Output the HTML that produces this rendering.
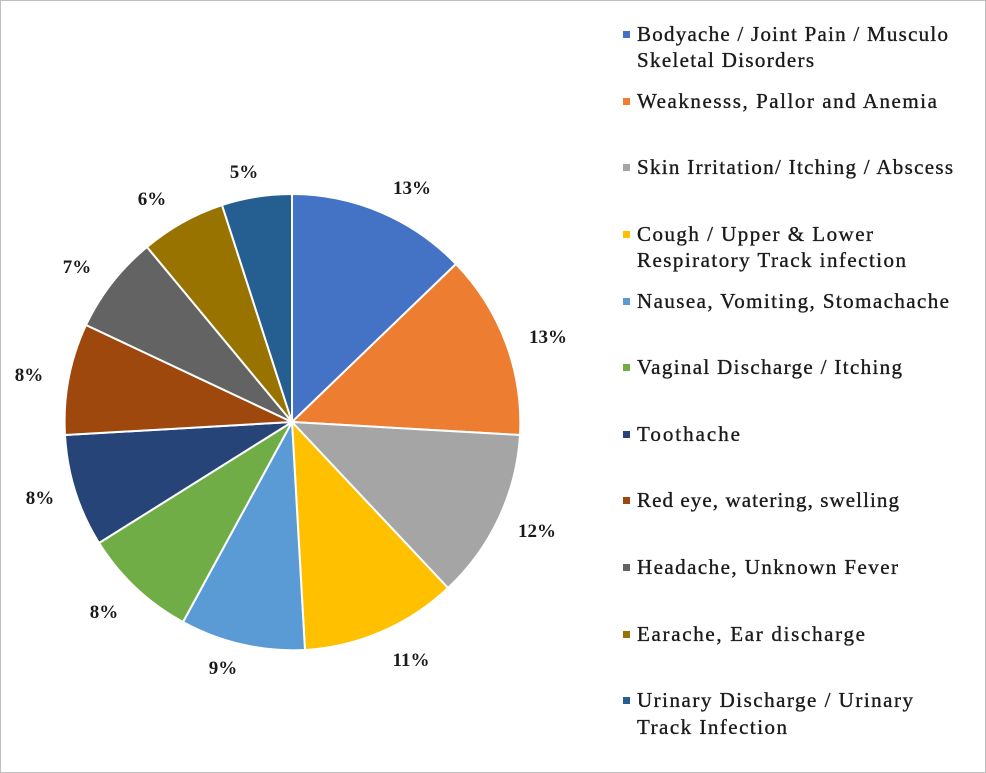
<!DOCTYPE html>
<html><head><meta charset="utf-8"><style>
body{margin:0;background:#fff}
svg{display:block}
text{font-family:"Liberation Serif",serif;font-weight:bold;fill:#1a1a1a;font-size:19px}
.lg text{font-size:21px;font-weight:normal;stroke:#1a1a1a;stroke-width:0.35}
</style></head><body>
<svg width="986" height="773" viewBox="0 0 986 773">
<rect x="0.5" y="0.5" width="985" height="772" fill="#fff" stroke="#bfbfbf"/>
<g stroke="#fff" stroke-width="2" stroke-linejoin="round">
<path d="M292,422 L292,194 A228,228 0 0 1 456,264 Z" fill="#4472C4"/>
<path d="M292,422 L456,264 A228,228 0 0 1 520,435 Z" fill="#ED7D31"/>
<path d="M292,422 L520,435 A228,228 0 0 1 448,588 Z" fill="#A5A5A5"/>
<path d="M292,422 L448,588 A228,228 0 0 1 305,650 Z" fill="#FFC000"/>
<path d="M292,422 L305,650 A228,228 0 0 1 183,622 Z" fill="#5B9BD5"/>
<path d="M292,422 L183,622 A228,228 0 0 1 99,543 Z" fill="#70AD47"/>
<path d="M292,422 L99,543 A228,228 0 0 1 65,435 Z" fill="#264478"/>
<path d="M292,422 L65,435 A228,228 0 0 1 86,325 Z" fill="#9E480E"/>
<path d="M292,422 L86,325 A228,228 0 0 1 147,247 Z" fill="#636363"/>
<path d="M292,422 L147,247 A228,228 0 0 1 222,205 Z" fill="#997300"/>
<path d="M292,422 L222,205 A228,228 0 0 1 292,194 Z" fill="#255E91"/>
</g>
<g text-anchor="middle">
<text x="412" y="194">13%</text>
<text x="548" y="343">13%</text>
<text x="537" y="537">12%</text>
<text x="411" y="666">11%</text>
<text x="223" y="674">9%</text>
<text x="104" y="618">8%</text>
<text x="40" y="504">8%</text>
<text x="29" y="381">8%</text>
<text x="77" y="273">7%</text>
<text x="152" y="205">6%</text>
<text x="244" y="178">5%</text>
</g>
<g class="lg">
<rect x="623" y="31" width="7" height="7" fill="#4472C4"/>
<text x="637" y="41" textLength="311">Bodyache / Joint Pain / Musculo</text>
<text x="637" y="67" textLength="177">Skeletal Disorders</text>
<rect x="623" y="98" width="7" height="7" fill="#ED7D31"/>
<text x="637" y="108" textLength="300">Weaknesss, Pallor and Anemia</text>
<rect x="623" y="164" width="7" height="7" fill="#A5A5A5"/>
<text x="637" y="174" textLength="316">Skin Irritation/ Itching / Abscess</text>
<rect x="623" y="231" width="7" height="7" fill="#FFC000"/>
<text x="637" y="241" textLength="236">Cough / Upper &amp; Lower</text>
<text x="637" y="267" textLength="269">Respiratory Track infection</text>
<rect x="623" y="298" width="7" height="7" fill="#5B9BD5"/>
<text x="637" y="308" textLength="312">Nausea, Vomiting, Stomachache</text>
<rect x="623" y="364" width="7" height="7" fill="#70AD47"/>
<text x="637" y="374" textLength="265">Vaginal Discharge / Itching</text>
<rect x="623" y="431" width="7" height="7" fill="#264478"/>
<text x="637" y="441" textLength="103">Toothache</text>
<rect x="623" y="497" width="7" height="7" fill="#9E480E"/>
<text x="637" y="507" textLength="262">Red eye, watering, swelling</text>
<rect x="623" y="564" width="7" height="7" fill="#636363"/>
<text x="637" y="574" textLength="261">Headache, Unknown Fever</text>
<rect x="623" y="631" width="7" height="7" fill="#997300"/>
<text x="637" y="641" textLength="228">Earache, Ear discharge</text>
<rect x="623" y="697" width="7" height="7" fill="#255E91"/>
<text x="637" y="707" textLength="276">Urinary Discharge / Urinary</text>
<text x="637" y="734" textLength="150">Track Infection</text>
</g>
</svg>
</body></html>
